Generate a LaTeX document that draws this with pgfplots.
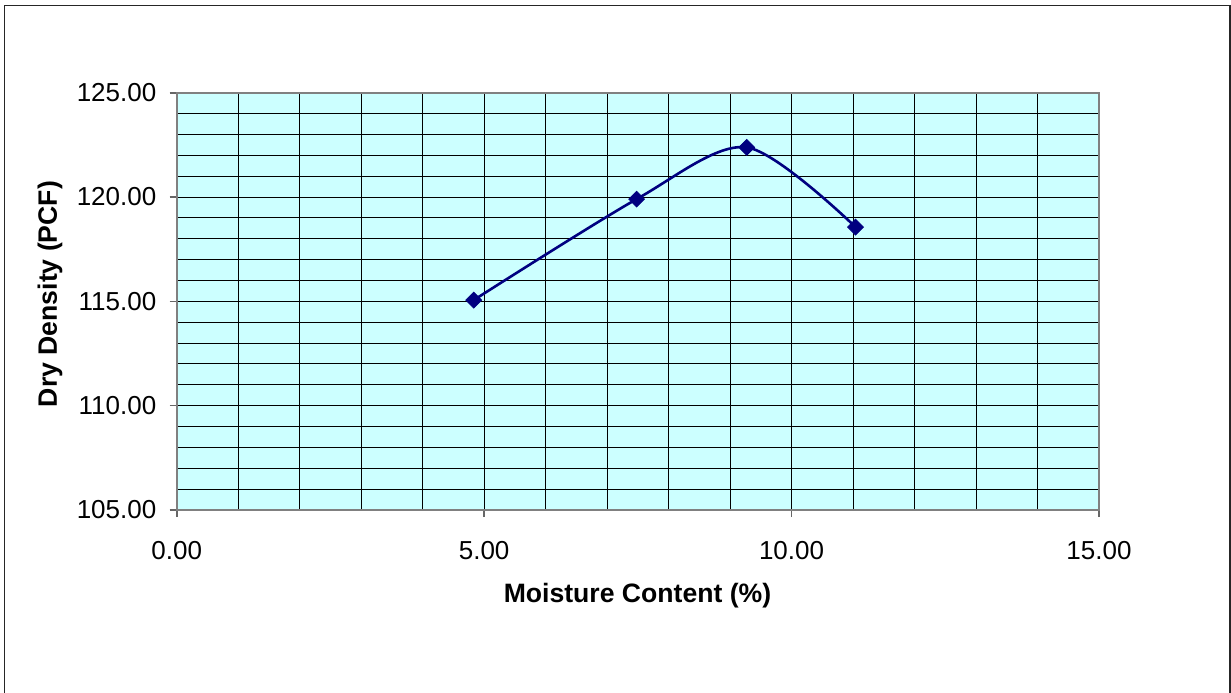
\documentclass[border=0pt]{standalone}
\usepackage{pgfplots}
\pgfplotsset{compat=1.18}
\usepackage{fontspec}
\setmainfont{Liberation Sans}
\definecolor{plotbg}{HTML}{CCFFFF}
\definecolor{navyline}{HTML}{000080}
\begin{document}
\begin{tikzpicture}
\path[use as bounding box] (0,0) rectangle (615.5pt,346pt);
\draw[line width=0.9pt, black!85] (2.25pt,-5pt) -- (2.25pt,343.25pt) -- (615pt,343.25pt) -- (615pt,-5pt);
\begin{axis}[
  at={(88.35pt,91pt)}, anchor=south west,
  scale only axis, width=461.15pt, height=208.65pt,
  xmin=0, xmax=15, ymin=105, ymax=125,
  xtick={0,5,10,15}, ytick={105,110,115,120,125},
  minor x tick num=4, minor y tick num=4,
  grid=both,
  major grid style={black, line width=0.5pt},
  minor grid style={black, line width=0.5pt},
  axis background/.style={fill=plotbg},
  axis line style={black!50, line width=1pt},
  tick style={black!60, line width=0.8pt},
  tick align=outside, major tick length=3.5pt, minor tick length=0pt,
  xtick pos=bottom, ytick pos=left,
  /pgf/number format/.cd, fixed, fixed zerofill, precision=2, assume math mode=true,
  /pgfplots/.cd,
  tick label style={font=\fontsize{13}{15}\selectfont},
  xticklabel style={anchor=north, inner sep=0pt, yshift=-12pt},
  yticklabel style={anchor=east, inner sep=0pt, xshift=-6.5pt},
  xlabel={Moisture Content (\%)},
  ylabel={Dry Density (PCF)},
  label style={font=\fontsize{13.3}{15}\selectfont\bfseries},
  xlabel style={at={(axis description cs:0.4996,-0.2221)}, anchor=base},
  ylabel style={at={(axis description cs:-0.1298,0.5176)}, anchor=base, rotate=0},
  clip=false,
]
\addplot[navyline, line width=1.3pt, smooth, mark=square*, mark size=2.8pt,
  mark options={rotate=45, fill=navyline, draw=navyline, line width=0.4pt}]
  coordinates {(4.83,115.06) (7.48,119.90) (9.27,122.38) (11.04,118.56)};
\end{axis}
\end{tikzpicture}
\end{document}
